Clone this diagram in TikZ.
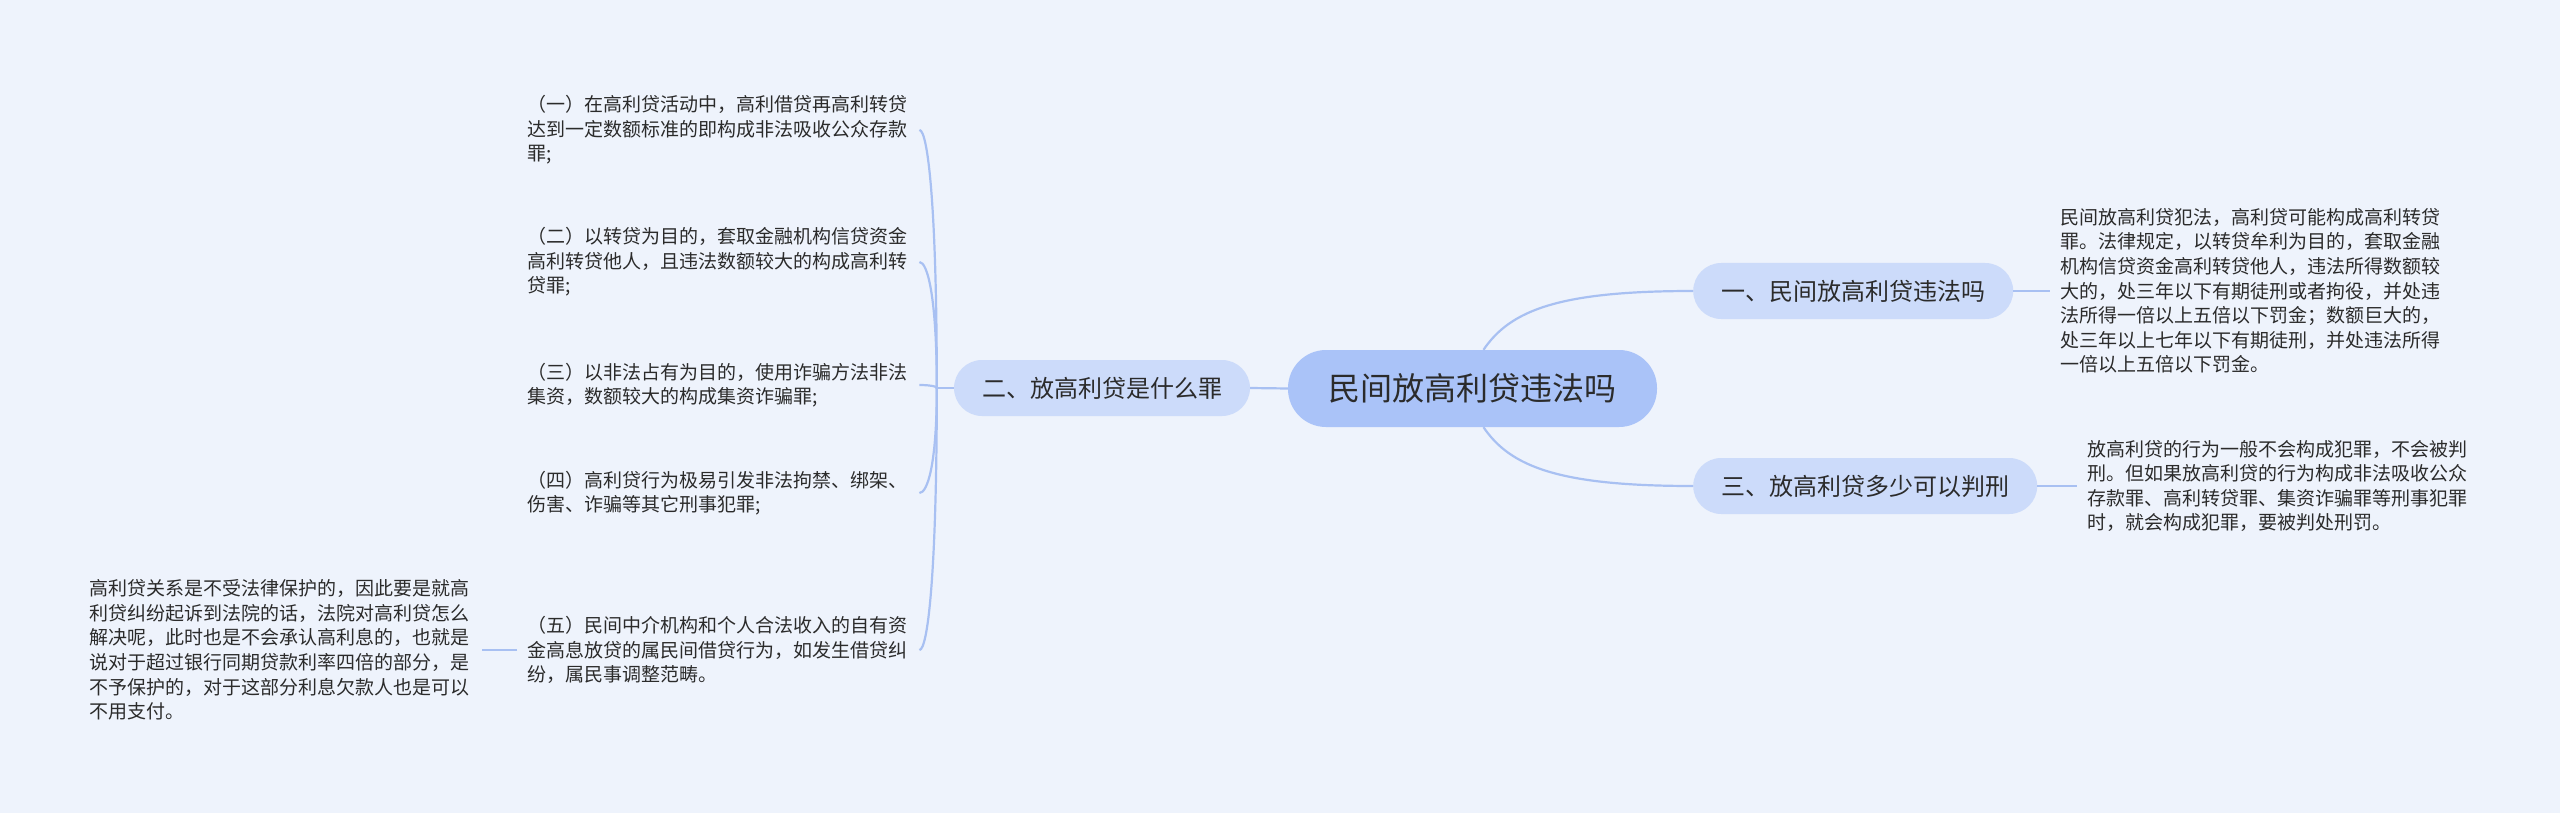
\documentclass[tikz,border=0pt]{standalone}
\usepackage{fontspec}
\newfontfamily\cjk{Noto Sans CJK SC}
\usepackage{tikz}
\usetikzlibrary{positioning, calc}
\definecolor{bgcol}{HTML}{EEF3FC}
\definecolor{rootfill}{HTML}{AAC3F8}
\definecolor{branchfill}{HTML}{CCDBFA}
\definecolor{linkcol}{HTML}{A8C0F2}
\definecolor{textdark}{HTML}{2B2B2B}
\tikzset{
	root/.style={rounded corners=38pt, fill=rootfill, minimum width=369pt, minimum height=77pt, inner sep=0pt, text=textdark, font=\cjk\fontsize{32pt}{36pt}\selectfont},
	branch/.style={rounded corners=28pt, fill=branchfill, minimum height=56pt, inner xsep=28pt, inner ysep=0pt, text=textdark, font=\cjk\fontsize{24pt}{28pt}\selectfont},
	leaf/.style={text width=382pt, align=left, inner xsep=10pt, inner ysep=2pt, text=textdark, font=\cjk\fontsize{19pt}{24.6pt}\selectfont},
	link/.style={draw=linkcol, line width=2.2pt}
}

\begin{document}
\begin{tikzpicture}[x=1pt, y=-1pt]
	% page background
	\fill[bgcol] (0,0) rectangle (2560,813);
	\useasboundingbox (0,0) rectangle (2560,813);
	
	% central topic
	\node[root] (main) at (1472.5,388.5) {民间放高利贷违法吗};
	
	% main branches
	\node[branch] (secTwo) at (1102,388) {二、放高利贷是什么罪};
	\node[branch, anchor=west] (secOne) at (1693,291) {一、民间放高利贷违法吗};
	\node[branch, anchor=west] (secThree) at (1693,486) {三、放高利贷多少可以判刑};
	
	% left leaves (under branch two)
	\node[leaf, anchor=west] (itemA) at (517,130) {（一）在高利贷活动中，高利借贷再高利转贷\\达到一定数额标准的即构成非法吸收公众存款\\罪;};
	\node[leaf, anchor=west] (itemB) at (517,262) {（二）以转贷为目的，套取金融机构信贷资金\\高利转贷他人，且违法数额较大的构成高利转\\贷罪;};
	\node[leaf, anchor=west] (itemC) at (517,385) {（三）以非法占有为目的，使用诈骗方法非法\\集资，数额较大的构成集资诈骗罪;};
	\node[leaf, anchor=west] (itemD) at (517,493) {（四）高利贷行为极易引发非法拘禁、绑架、\\伤害、诈骗等其它刑事犯罪;};
	\node[leaf, anchor=west] (itemE) at (517,650) {（五）民间中介机构和个人合法收入的自有资\\金高息放贷的属民间借贷行为，如发生借贷纠\\纷，属民事调整范畴。};
	\node[leaf, left=35pt of itemE] (itemNote) {高利贷关系是不受法律保护的，因此要是就高\\利贷纠纷起诉到法院的话，法院对高利贷怎么\\解决呢，此时也是不会承认高利息的，也就是\\说对于超过银行同期贷款利率四倍的部分，是\\不予保护的，对于这部分利息欠款人也是可以\\不用支付。};
	
	% right leaves
	\node[leaf, right=37pt of secOne] (ansOne) {民间放高利贷犯法，高利贷可能构成高利转贷\\罪。法律规定，以转贷牟利为目的，套取金融\\机构信贷资金高利转贷他人，违法所得数额较\\大的，处三年以下有期徒刑或者拘役，并处违\\法所得一倍以上五倍以下罚金；数额巨大的，\\处三年以上七年以下有期徒刑，并处违法所得\\一倍以上五倍以下罚金。};
	\node[leaf, right=40pt of secThree] (ansThree) {放高利贷的行为一般不会构成犯罪，不会被判\\刑。但如果放高利贷的行为构成非法吸收公众\\存款罪、高利转贷罪、集资诈骗罪等刑事犯罪\\时，就会构成犯罪，要被判处刑罚。};
	
	% connectors
	\draw[link] (main.west) -- (secTwo.east);
	\draw[link] ([xshift=11pt]main.north) .. controls +(27,-40) and +(-133,0) .. (secOne.west);
	\draw[link] ([xshift=11pt]main.south) .. controls +(27,40) and +(-133,0) .. (secThree.west);
	\draw[link] (secOne.east) -- (ansOne.west);
	\draw[link] (secThree.east) -- (ansThree.west);
	\draw[link] (secTwo.west) -- ++(-17,0) coordinate (hub);
	\foreach \leaf/\dy in {itemA/-188, itemB/-92, itemC/-2, itemD/77, itemE/191}
		\draw[link] (hub) .. controls +(0,\dy) and +(8,0) .. (\leaf.east);
	\draw[link] (itemE.west) -- (itemNote.east);
\end{tikzpicture}
\end{document}
